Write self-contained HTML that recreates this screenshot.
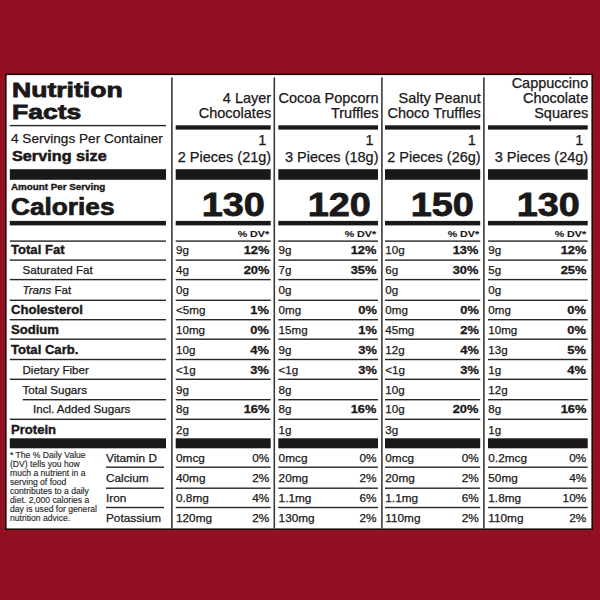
<!DOCTYPE html>
<html><head><meta charset="utf-8"><style>
html,body{margin:0;padding:0;}
body{width:600px;height:600px;background:#921022;position:relative;overflow:hidden;font-family:"Liberation Sans",sans-serif;color:#1a1818;}
.t{position:absolute;line-height:1;white-space:nowrap;}
</style></head><body>
<svg width="600" height="600" style="position:absolute;left:0;top:0">
<rect x="5.8" y="74.3" width="586.4" height="454.9" fill="#fff" stroke="#1e0608" stroke-width="1.6"/>
<rect x="171.10" y="77.5" width="1.6" height="450.90" fill="#3a3a3a"/>
<rect x="273.50" y="77.5" width="1.6" height="450.90" fill="#3a3a3a"/>
<rect x="381.10" y="77.5" width="1.6" height="450.90" fill="#3a3a3a"/>
<rect x="483.10" y="77.5" width="1.6" height="450.90" fill="#3a3a3a"/>
<rect x="9.80" y="124.90" width="156.20" height="1.40" fill="#262626"/>
<rect x="175.70" y="125.30" width="95.00" height="4.30" fill="#1a1818"/>
<rect x="278.30" y="125.30" width="99.70" height="4.30" fill="#1a1818"/>
<rect x="385.00" y="125.30" width="95.20" height="4.30" fill="#1a1818"/>
<rect x="488.00" y="125.30" width="99.70" height="4.30" fill="#1a1818"/>
<rect x="9.80" y="169.20" width="156.20" height="10.60" fill="#1a1818"/>
<rect x="175.70" y="169.20" width="95.00" height="10.60" fill="#1a1818"/>
<rect x="278.30" y="169.20" width="99.70" height="10.60" fill="#1a1818"/>
<rect x="385.00" y="169.20" width="95.20" height="10.60" fill="#1a1818"/>
<rect x="488.00" y="169.20" width="99.70" height="10.60" fill="#1a1818"/>
<rect x="9.80" y="220.90" width="156.20" height="4.50" fill="#1a1818"/>
<rect x="175.70" y="220.90" width="95.00" height="4.50" fill="#1a1818"/>
<rect x="278.30" y="220.90" width="99.70" height="4.50" fill="#1a1818"/>
<rect x="385.00" y="220.90" width="95.20" height="4.50" fill="#1a1818"/>
<rect x="488.00" y="220.90" width="99.70" height="4.50" fill="#1a1818"/>
<rect x="9.80" y="240.40" width="156.20" height="1.40" fill="#262626"/>
<rect x="175.70" y="240.40" width="95.00" height="1.40" fill="#262626"/>
<rect x="278.30" y="240.40" width="99.70" height="1.40" fill="#262626"/>
<rect x="385.00" y="240.40" width="95.20" height="1.40" fill="#262626"/>
<rect x="488.00" y="240.40" width="99.70" height="1.40" fill="#262626"/>
<rect x="9.80" y="259.40" width="156.20" height="1.40" fill="#262626"/>
<rect x="175.70" y="259.40" width="95.00" height="1.40" fill="#262626"/>
<rect x="278.30" y="259.40" width="99.70" height="1.40" fill="#262626"/>
<rect x="385.00" y="259.40" width="95.20" height="1.40" fill="#262626"/>
<rect x="488.00" y="259.40" width="99.70" height="1.40" fill="#262626"/>
<rect x="9.80" y="278.90" width="156.20" height="1.40" fill="#262626"/>
<rect x="175.70" y="278.90" width="95.00" height="1.40" fill="#262626"/>
<rect x="278.30" y="278.90" width="99.70" height="1.40" fill="#262626"/>
<rect x="385.00" y="278.90" width="95.20" height="1.40" fill="#262626"/>
<rect x="488.00" y="278.90" width="99.70" height="1.40" fill="#262626"/>
<rect x="9.80" y="299.60" width="156.20" height="1.40" fill="#262626"/>
<rect x="175.70" y="299.60" width="95.00" height="1.40" fill="#262626"/>
<rect x="278.30" y="299.60" width="99.70" height="1.40" fill="#262626"/>
<rect x="385.00" y="299.60" width="95.20" height="1.40" fill="#262626"/>
<rect x="488.00" y="299.60" width="99.70" height="1.40" fill="#262626"/>
<rect x="9.80" y="319.00" width="156.20" height="1.40" fill="#262626"/>
<rect x="175.70" y="319.00" width="95.00" height="1.40" fill="#262626"/>
<rect x="278.30" y="319.00" width="99.70" height="1.40" fill="#262626"/>
<rect x="385.00" y="319.00" width="95.20" height="1.40" fill="#262626"/>
<rect x="488.00" y="319.00" width="99.70" height="1.40" fill="#262626"/>
<rect x="9.80" y="338.50" width="156.20" height="1.40" fill="#262626"/>
<rect x="175.70" y="338.50" width="95.00" height="1.40" fill="#262626"/>
<rect x="278.30" y="338.50" width="99.70" height="1.40" fill="#262626"/>
<rect x="385.00" y="338.50" width="95.20" height="1.40" fill="#262626"/>
<rect x="488.00" y="338.50" width="99.70" height="1.40" fill="#262626"/>
<rect x="9.80" y="358.80" width="156.20" height="1.40" fill="#262626"/>
<rect x="175.70" y="358.80" width="95.00" height="1.40" fill="#262626"/>
<rect x="278.30" y="358.80" width="99.70" height="1.40" fill="#262626"/>
<rect x="385.00" y="358.80" width="95.20" height="1.40" fill="#262626"/>
<rect x="488.00" y="358.80" width="99.70" height="1.40" fill="#262626"/>
<rect x="9.80" y="378.60" width="156.20" height="1.40" fill="#262626"/>
<rect x="175.70" y="378.60" width="95.00" height="1.40" fill="#262626"/>
<rect x="278.30" y="378.60" width="99.70" height="1.40" fill="#262626"/>
<rect x="385.00" y="378.60" width="95.20" height="1.40" fill="#262626"/>
<rect x="488.00" y="378.60" width="99.70" height="1.40" fill="#262626"/>
<rect x="22.70" y="399.00" width="143.30" height="1.40" fill="#262626"/>
<rect x="175.70" y="399.00" width="95.00" height="1.40" fill="#262626"/>
<rect x="278.30" y="399.00" width="99.70" height="1.40" fill="#262626"/>
<rect x="385.00" y="399.00" width="95.20" height="1.40" fill="#262626"/>
<rect x="488.00" y="399.00" width="99.70" height="1.40" fill="#262626"/>
<rect x="9.80" y="418.60" width="156.20" height="1.40" fill="#262626"/>
<rect x="175.70" y="418.60" width="95.00" height="1.40" fill="#262626"/>
<rect x="278.30" y="418.60" width="99.70" height="1.40" fill="#262626"/>
<rect x="385.00" y="418.60" width="95.20" height="1.40" fill="#262626"/>
<rect x="488.00" y="418.60" width="99.70" height="1.40" fill="#262626"/>
<rect x="9.80" y="438.30" width="156.20" height="10.00" fill="#1a1818"/>
<rect x="175.70" y="438.30" width="95.00" height="10.00" fill="#1a1818"/>
<rect x="278.30" y="438.30" width="99.70" height="10.00" fill="#1a1818"/>
<rect x="385.00" y="438.30" width="95.20" height="10.00" fill="#1a1818"/>
<rect x="488.00" y="438.30" width="99.70" height="10.00" fill="#1a1818"/>
<rect x="106.00" y="466.50" width="58.00" height="1.40" fill="#262626"/>
<rect x="175.70" y="466.50" width="95.00" height="1.40" fill="#262626"/>
<rect x="278.30" y="466.50" width="99.70" height="1.40" fill="#262626"/>
<rect x="385.00" y="466.50" width="95.20" height="1.40" fill="#262626"/>
<rect x="488.00" y="466.50" width="99.70" height="1.40" fill="#262626"/>
<rect x="106.00" y="487.50" width="58.00" height="1.40" fill="#262626"/>
<rect x="175.70" y="487.50" width="95.00" height="1.40" fill="#262626"/>
<rect x="278.30" y="487.50" width="99.70" height="1.40" fill="#262626"/>
<rect x="385.00" y="487.50" width="95.20" height="1.40" fill="#262626"/>
<rect x="488.00" y="487.50" width="99.70" height="1.40" fill="#262626"/>
<rect x="106.00" y="506.80" width="58.00" height="1.40" fill="#262626"/>
<rect x="175.70" y="506.80" width="95.00" height="1.40" fill="#262626"/>
<rect x="278.30" y="506.80" width="99.70" height="1.40" fill="#262626"/>
<rect x="385.00" y="506.80" width="95.20" height="1.40" fill="#262626"/>
<rect x="488.00" y="506.80" width="99.70" height="1.40" fill="#262626"/>
</svg>
<div class="t" style="top:79px;font-size:21.0px;font-weight:bold;-webkit-text-stroke:0.8px #1a1818;left:12.20px;transform:scaleX(1.265);transform-origin:0 0;">Nutrition</div>
<div class="t" style="top:101px;font-size:21.0px;font-weight:bold;-webkit-text-stroke:0.8px #1a1818;left:12.20px;transform:scaleX(1.265);transform-origin:0 0;">Facts</div>
<div class="t" style="top:91px;font-size:14.5px;-webkit-text-stroke:0.25px #1a1818;right:328.80px;">4 Layer</div>
<div class="t" style="top:106px;font-size:14.5px;-webkit-text-stroke:0.25px #1a1818;right:328.80px;">Chocolates</div>
<div class="t" style="top:91px;font-size:14.5px;-webkit-text-stroke:0.25px #1a1818;right:221.50px;">Cocoa Popcorn</div>
<div class="t" style="top:106px;font-size:14.5px;-webkit-text-stroke:0.25px #1a1818;right:221.50px;">Truffles</div>
<div class="t" style="top:91px;font-size:14.5px;-webkit-text-stroke:0.25px #1a1818;right:119.30px;">Salty Peanut</div>
<div class="t" style="top:106px;font-size:14.5px;-webkit-text-stroke:0.25px #1a1818;right:119.30px;">Choco Truffles</div>
<div class="t" style="top:76px;font-size:14.5px;-webkit-text-stroke:0.25px #1a1818;right:11.80px;">Cappuccino</div>
<div class="t" style="top:91px;font-size:14.5px;-webkit-text-stroke:0.25px #1a1818;right:11.80px;">Chocolate</div>
<div class="t" style="top:106px;font-size:14.5px;-webkit-text-stroke:0.25px #1a1818;right:11.80px;">Squares</div>
<div class="t" style="top:132px;font-size:13.6px;-webkit-text-stroke:0.25px #1a1818;left:11.00px;">4 Servings Per Container</div>
<div class="t" style="top:149px;font-size:14.5px;font-weight:bold;-webkit-text-stroke:0.5px #1a1818;left:11.50px;transform:scaleX(1.12);transform-origin:0 0;">Serving size</div>
<div class="t" style="top:133px;font-size:14.5px;-webkit-text-stroke:0.25px #1a1818;right:333.80px;">1</div>
<div class="t" style="top:150px;font-size:14.5px;-webkit-text-stroke:0.25px #1a1818;right:328.80px;">2 Pieces (21g)</div>
<div class="t" style="top:133px;font-size:14.5px;-webkit-text-stroke:0.25px #1a1818;right:226.50px;">1</div>
<div class="t" style="top:150px;font-size:14.5px;-webkit-text-stroke:0.25px #1a1818;right:221.50px;">3 Pieces (18g)</div>
<div class="t" style="top:133px;font-size:14.5px;-webkit-text-stroke:0.25px #1a1818;right:124.30px;">1</div>
<div class="t" style="top:150px;font-size:14.5px;-webkit-text-stroke:0.25px #1a1818;right:119.30px;">2 Pieces (26g)</div>
<div class="t" style="top:133px;font-size:14.5px;-webkit-text-stroke:0.25px #1a1818;right:16.80px;">1</div>
<div class="t" style="top:150px;font-size:14.5px;-webkit-text-stroke:0.25px #1a1818;right:11.80px;">3 Pieces (24g)</div>
<div class="t" style="top:183px;font-size:8.9px;font-weight:bold;-webkit-text-stroke:0.35px #1a1818;left:11.00px;transform:scaleX(1.105);transform-origin:0 0;">Amount Per Serving</div>
<div class="t" style="top:196px;font-size:23.0px;font-weight:bold;-webkit-text-stroke:0.7px #1a1818;left:11.00px;transform:scaleX(1.14);transform-origin:0 0;">Calories</div>
<div class="t" style="top:188px;font-size:33.5px;font-weight:bold;-webkit-text-stroke:0.8px #1a1818;right:334.70px;transform:scaleX(1.13);transform-origin:100% 0;">130</div>
<div class="t" style="top:188px;font-size:33.5px;font-weight:bold;-webkit-text-stroke:0.8px #1a1818;right:228.80px;transform:scaleX(1.13);transform-origin:100% 0;">120</div>
<div class="t" style="top:188px;font-size:33.5px;font-weight:bold;-webkit-text-stroke:0.8px #1a1818;right:126.10px;transform:scaleX(1.13);transform-origin:100% 0;">150</div>
<div class="t" style="top:188px;font-size:33.5px;font-weight:bold;-webkit-text-stroke:0.8px #1a1818;right:19.80px;transform:scaleX(1.13);transform-origin:100% 0;">130</div>
<div class="t" style="top:230px;font-size:9.2px;font-weight:bold;-webkit-text-stroke:0.12px #1a1818;right:330.80px;transform:scaleX(1.16);transform-origin:100% 0;">% DV*</div>
<div class="t" style="top:230px;font-size:9.2px;font-weight:bold;-webkit-text-stroke:0.12px #1a1818;right:223.50px;transform:scaleX(1.16);transform-origin:100% 0;">% DV*</div>
<div class="t" style="top:230px;font-size:9.2px;font-weight:bold;-webkit-text-stroke:0.12px #1a1818;right:121.30px;transform:scaleX(1.16);transform-origin:100% 0;">% DV*</div>
<div class="t" style="top:230px;font-size:9.2px;font-weight:bold;-webkit-text-stroke:0.12px #1a1818;right:13.80px;transform:scaleX(1.16);transform-origin:100% 0;">% DV*</div>
<div class="t" style="top:244px;font-size:12.0px;font-weight:bold;-webkit-text-stroke:0.35px #1a1818;left:10.50px;transform:scaleX(1.09);transform-origin:0 0;">Total Fat</div>
<div class="t" style="top:264px;font-size:11.6px;-webkit-text-stroke:0.25px #1a1818;left:22.50px;">Saturated Fat</div>
<div class="t" style="top:284px;font-size:11.6px;-webkit-text-stroke:0.25px #1a1818;left:22.50px;"><i>Trans</i> Fat</div>
<div class="t" style="top:304px;font-size:12.0px;font-weight:bold;-webkit-text-stroke:0.35px #1a1818;left:10.50px;transform:scaleX(1.09);transform-origin:0 0;">Cholesterol</div>
<div class="t" style="top:324px;font-size:12.0px;font-weight:bold;-webkit-text-stroke:0.35px #1a1818;left:10.50px;transform:scaleX(1.09);transform-origin:0 0;">Sodium</div>
<div class="t" style="top:344px;font-size:12.0px;font-weight:bold;-webkit-text-stroke:0.35px #1a1818;left:10.50px;transform:scaleX(1.09);transform-origin:0 0;">Total Carb.</div>
<div class="t" style="top:364px;font-size:11.6px;-webkit-text-stroke:0.25px #1a1818;left:22.50px;">Dietary Fiber</div>
<div class="t" style="top:384px;font-size:11.6px;-webkit-text-stroke:0.25px #1a1818;left:22.50px;">Total Sugars</div>
<div class="t" style="top:403px;font-size:11.6px;-webkit-text-stroke:0.25px #1a1818;left:33.00px;">Incl. Added Sugars</div>
<div class="t" style="top:424px;font-size:12.0px;font-weight:bold;-webkit-text-stroke:0.35px #1a1818;left:10.50px;transform:scaleX(1.09);transform-origin:0 0;">Protein</div>
<div class="t" style="top:244px;font-size:11.6px;-webkit-text-stroke:0.25px #1a1818;left:176.00px;">9g</div>
<div class="t" style="top:244px;font-size:11.7px;font-weight:bold;-webkit-text-stroke:0.3px #1a1818;right:330.90px;transform:scaleX(1.1);transform-origin:100% 0;">12%</div>
<div class="t" style="top:264px;font-size:11.6px;-webkit-text-stroke:0.25px #1a1818;left:176.00px;">4g</div>
<div class="t" style="top:264px;font-size:11.7px;font-weight:bold;-webkit-text-stroke:0.3px #1a1818;right:330.90px;transform:scaleX(1.1);transform-origin:100% 0;">20%</div>
<div class="t" style="top:284px;font-size:11.6px;-webkit-text-stroke:0.25px #1a1818;left:176.00px;">0g</div>
<div class="t" style="top:304px;font-size:11.6px;-webkit-text-stroke:0.25px #1a1818;left:176.00px;">&lt;5mg</div>
<div class="t" style="top:304px;font-size:11.7px;font-weight:bold;-webkit-text-stroke:0.3px #1a1818;right:330.90px;transform:scaleX(1.1);transform-origin:100% 0;">1%</div>
<div class="t" style="top:324px;font-size:11.6px;-webkit-text-stroke:0.25px #1a1818;left:176.00px;">10mg</div>
<div class="t" style="top:324px;font-size:11.7px;font-weight:bold;-webkit-text-stroke:0.3px #1a1818;right:330.90px;transform:scaleX(1.1);transform-origin:100% 0;">0%</div>
<div class="t" style="top:344px;font-size:11.6px;-webkit-text-stroke:0.25px #1a1818;left:176.00px;">10g</div>
<div class="t" style="top:344px;font-size:11.7px;font-weight:bold;-webkit-text-stroke:0.3px #1a1818;right:330.90px;transform:scaleX(1.1);transform-origin:100% 0;">4%</div>
<div class="t" style="top:364px;font-size:11.6px;-webkit-text-stroke:0.25px #1a1818;left:176.00px;">&lt;1g</div>
<div class="t" style="top:364px;font-size:11.7px;font-weight:bold;-webkit-text-stroke:0.3px #1a1818;right:330.90px;transform:scaleX(1.1);transform-origin:100% 0;">3%</div>
<div class="t" style="top:384px;font-size:11.6px;-webkit-text-stroke:0.25px #1a1818;left:176.00px;">9g</div>
<div class="t" style="top:403px;font-size:11.6px;-webkit-text-stroke:0.25px #1a1818;left:176.00px;">8g</div>
<div class="t" style="top:403px;font-size:11.7px;font-weight:bold;-webkit-text-stroke:0.3px #1a1818;right:330.90px;transform:scaleX(1.1);transform-origin:100% 0;">16%</div>
<div class="t" style="top:424px;font-size:11.6px;-webkit-text-stroke:0.25px #1a1818;left:176.00px;">2g</div>
<div class="t" style="top:244px;font-size:11.6px;-webkit-text-stroke:0.25px #1a1818;left:278.60px;">9g</div>
<div class="t" style="top:244px;font-size:11.7px;font-weight:bold;-webkit-text-stroke:0.3px #1a1818;right:223.60px;transform:scaleX(1.1);transform-origin:100% 0;">12%</div>
<div class="t" style="top:264px;font-size:11.6px;-webkit-text-stroke:0.25px #1a1818;left:278.60px;">7g</div>
<div class="t" style="top:264px;font-size:11.7px;font-weight:bold;-webkit-text-stroke:0.3px #1a1818;right:223.60px;transform:scaleX(1.1);transform-origin:100% 0;">35%</div>
<div class="t" style="top:284px;font-size:11.6px;-webkit-text-stroke:0.25px #1a1818;left:278.60px;">0g</div>
<div class="t" style="top:304px;font-size:11.6px;-webkit-text-stroke:0.25px #1a1818;left:278.60px;">0mg</div>
<div class="t" style="top:304px;font-size:11.7px;font-weight:bold;-webkit-text-stroke:0.3px #1a1818;right:223.60px;transform:scaleX(1.1);transform-origin:100% 0;">0%</div>
<div class="t" style="top:324px;font-size:11.6px;-webkit-text-stroke:0.25px #1a1818;left:278.60px;">15mg</div>
<div class="t" style="top:324px;font-size:11.7px;font-weight:bold;-webkit-text-stroke:0.3px #1a1818;right:223.60px;transform:scaleX(1.1);transform-origin:100% 0;">1%</div>
<div class="t" style="top:344px;font-size:11.6px;-webkit-text-stroke:0.25px #1a1818;left:278.60px;">9g</div>
<div class="t" style="top:344px;font-size:11.7px;font-weight:bold;-webkit-text-stroke:0.3px #1a1818;right:223.60px;transform:scaleX(1.1);transform-origin:100% 0;">3%</div>
<div class="t" style="top:364px;font-size:11.6px;-webkit-text-stroke:0.25px #1a1818;left:278.60px;">&lt;1g</div>
<div class="t" style="top:364px;font-size:11.7px;font-weight:bold;-webkit-text-stroke:0.3px #1a1818;right:223.60px;transform:scaleX(1.1);transform-origin:100% 0;">3%</div>
<div class="t" style="top:384px;font-size:11.6px;-webkit-text-stroke:0.25px #1a1818;left:278.60px;">8g</div>
<div class="t" style="top:403px;font-size:11.6px;-webkit-text-stroke:0.25px #1a1818;left:278.60px;">8g</div>
<div class="t" style="top:403px;font-size:11.7px;font-weight:bold;-webkit-text-stroke:0.3px #1a1818;right:223.60px;transform:scaleX(1.1);transform-origin:100% 0;">16%</div>
<div class="t" style="top:424px;font-size:11.6px;-webkit-text-stroke:0.25px #1a1818;left:278.60px;">1g</div>
<div class="t" style="top:244px;font-size:11.6px;-webkit-text-stroke:0.25px #1a1818;left:385.30px;">10g</div>
<div class="t" style="top:244px;font-size:11.7px;font-weight:bold;-webkit-text-stroke:0.3px #1a1818;right:121.40px;transform:scaleX(1.1);transform-origin:100% 0;">13%</div>
<div class="t" style="top:264px;font-size:11.6px;-webkit-text-stroke:0.25px #1a1818;left:385.30px;">6g</div>
<div class="t" style="top:264px;font-size:11.7px;font-weight:bold;-webkit-text-stroke:0.3px #1a1818;right:121.40px;transform:scaleX(1.1);transform-origin:100% 0;">30%</div>
<div class="t" style="top:284px;font-size:11.6px;-webkit-text-stroke:0.25px #1a1818;left:385.30px;">0g</div>
<div class="t" style="top:304px;font-size:11.6px;-webkit-text-stroke:0.25px #1a1818;left:385.30px;">0mg</div>
<div class="t" style="top:304px;font-size:11.7px;font-weight:bold;-webkit-text-stroke:0.3px #1a1818;right:121.40px;transform:scaleX(1.1);transform-origin:100% 0;">0%</div>
<div class="t" style="top:324px;font-size:11.6px;-webkit-text-stroke:0.25px #1a1818;left:385.30px;">45mg</div>
<div class="t" style="top:324px;font-size:11.7px;font-weight:bold;-webkit-text-stroke:0.3px #1a1818;right:121.40px;transform:scaleX(1.1);transform-origin:100% 0;">2%</div>
<div class="t" style="top:344px;font-size:11.6px;-webkit-text-stroke:0.25px #1a1818;left:385.30px;">12g</div>
<div class="t" style="top:344px;font-size:11.7px;font-weight:bold;-webkit-text-stroke:0.3px #1a1818;right:121.40px;transform:scaleX(1.1);transform-origin:100% 0;">4%</div>
<div class="t" style="top:364px;font-size:11.6px;-webkit-text-stroke:0.25px #1a1818;left:385.30px;">&lt;1g</div>
<div class="t" style="top:364px;font-size:11.7px;font-weight:bold;-webkit-text-stroke:0.3px #1a1818;right:121.40px;transform:scaleX(1.1);transform-origin:100% 0;">3%</div>
<div class="t" style="top:384px;font-size:11.6px;-webkit-text-stroke:0.25px #1a1818;left:385.30px;">10g</div>
<div class="t" style="top:403px;font-size:11.6px;-webkit-text-stroke:0.25px #1a1818;left:385.30px;">10g</div>
<div class="t" style="top:403px;font-size:11.7px;font-weight:bold;-webkit-text-stroke:0.3px #1a1818;right:121.40px;transform:scaleX(1.1);transform-origin:100% 0;">20%</div>
<div class="t" style="top:424px;font-size:11.6px;-webkit-text-stroke:0.25px #1a1818;left:385.30px;">3g</div>
<div class="t" style="top:244px;font-size:11.6px;-webkit-text-stroke:0.25px #1a1818;left:488.30px;">9g</div>
<div class="t" style="top:244px;font-size:11.7px;font-weight:bold;-webkit-text-stroke:0.3px #1a1818;right:13.90px;transform:scaleX(1.1);transform-origin:100% 0;">12%</div>
<div class="t" style="top:264px;font-size:11.6px;-webkit-text-stroke:0.25px #1a1818;left:488.30px;">5g</div>
<div class="t" style="top:264px;font-size:11.7px;font-weight:bold;-webkit-text-stroke:0.3px #1a1818;right:13.90px;transform:scaleX(1.1);transform-origin:100% 0;">25%</div>
<div class="t" style="top:284px;font-size:11.6px;-webkit-text-stroke:0.25px #1a1818;left:488.30px;">0g</div>
<div class="t" style="top:304px;font-size:11.6px;-webkit-text-stroke:0.25px #1a1818;left:488.30px;">0mg</div>
<div class="t" style="top:304px;font-size:11.7px;font-weight:bold;-webkit-text-stroke:0.3px #1a1818;right:13.90px;transform:scaleX(1.1);transform-origin:100% 0;">0%</div>
<div class="t" style="top:324px;font-size:11.6px;-webkit-text-stroke:0.25px #1a1818;left:488.30px;">10mg</div>
<div class="t" style="top:324px;font-size:11.7px;font-weight:bold;-webkit-text-stroke:0.3px #1a1818;right:13.90px;transform:scaleX(1.1);transform-origin:100% 0;">0%</div>
<div class="t" style="top:344px;font-size:11.6px;-webkit-text-stroke:0.25px #1a1818;left:488.30px;">13g</div>
<div class="t" style="top:344px;font-size:11.7px;font-weight:bold;-webkit-text-stroke:0.3px #1a1818;right:13.90px;transform:scaleX(1.1);transform-origin:100% 0;">5%</div>
<div class="t" style="top:364px;font-size:11.6px;-webkit-text-stroke:0.25px #1a1818;left:488.30px;">1g</div>
<div class="t" style="top:364px;font-size:11.7px;font-weight:bold;-webkit-text-stroke:0.3px #1a1818;right:13.90px;transform:scaleX(1.1);transform-origin:100% 0;">4%</div>
<div class="t" style="top:384px;font-size:11.6px;-webkit-text-stroke:0.25px #1a1818;left:488.30px;">12g</div>
<div class="t" style="top:403px;font-size:11.6px;-webkit-text-stroke:0.25px #1a1818;left:488.30px;">8g</div>
<div class="t" style="top:403px;font-size:11.7px;font-weight:bold;-webkit-text-stroke:0.3px #1a1818;right:13.90px;transform:scaleX(1.1);transform-origin:100% 0;">16%</div>
<div class="t" style="top:424px;font-size:11.6px;-webkit-text-stroke:0.25px #1a1818;left:488.30px;">1g</div>
<div class="t" style="top:453px;font-size:11.8px;-webkit-text-stroke:0.25px #1a1818;left:106.00px;">Vitamin D</div>
<div class="t" style="top:473px;font-size:11.8px;-webkit-text-stroke:0.25px #1a1818;left:106.00px;">Calcium</div>
<div class="t" style="top:493px;font-size:11.8px;-webkit-text-stroke:0.25px #1a1818;left:106.00px;">Iron</div>
<div class="t" style="top:513px;font-size:11.8px;-webkit-text-stroke:0.25px #1a1818;left:106.00px;">Potassium</div>
<div class="t" style="top:453px;font-size:11.8px;-webkit-text-stroke:0.25px #1a1818;left:176.00px;">0mcg</div>
<div class="t" style="top:453px;font-size:11.8px;-webkit-text-stroke:0.25px #1a1818;right:330.80px;">0%</div>
<div class="t" style="top:473px;font-size:11.8px;-webkit-text-stroke:0.25px #1a1818;left:176.00px;">40mg</div>
<div class="t" style="top:473px;font-size:11.8px;-webkit-text-stroke:0.25px #1a1818;right:330.80px;">2%</div>
<div class="t" style="top:493px;font-size:11.8px;-webkit-text-stroke:0.25px #1a1818;left:176.00px;">0.8mg</div>
<div class="t" style="top:493px;font-size:11.8px;-webkit-text-stroke:0.25px #1a1818;right:330.80px;">4%</div>
<div class="t" style="top:513px;font-size:11.8px;-webkit-text-stroke:0.25px #1a1818;left:176.00px;">120mg</div>
<div class="t" style="top:513px;font-size:11.8px;-webkit-text-stroke:0.25px #1a1818;right:330.80px;">2%</div>
<div class="t" style="top:453px;font-size:11.8px;-webkit-text-stroke:0.25px #1a1818;left:278.60px;">0mcg</div>
<div class="t" style="top:453px;font-size:11.8px;-webkit-text-stroke:0.25px #1a1818;right:223.50px;">0%</div>
<div class="t" style="top:473px;font-size:11.8px;-webkit-text-stroke:0.25px #1a1818;left:278.60px;">20mg</div>
<div class="t" style="top:473px;font-size:11.8px;-webkit-text-stroke:0.25px #1a1818;right:223.50px;">2%</div>
<div class="t" style="top:493px;font-size:11.8px;-webkit-text-stroke:0.25px #1a1818;left:278.60px;">1.1mg</div>
<div class="t" style="top:493px;font-size:11.8px;-webkit-text-stroke:0.25px #1a1818;right:223.50px;">6%</div>
<div class="t" style="top:513px;font-size:11.8px;-webkit-text-stroke:0.25px #1a1818;left:278.60px;">130mg</div>
<div class="t" style="top:513px;font-size:11.8px;-webkit-text-stroke:0.25px #1a1818;right:223.50px;">2%</div>
<div class="t" style="top:453px;font-size:11.8px;-webkit-text-stroke:0.25px #1a1818;left:385.30px;">0mcg</div>
<div class="t" style="top:453px;font-size:11.8px;-webkit-text-stroke:0.25px #1a1818;right:121.30px;">0%</div>
<div class="t" style="top:473px;font-size:11.8px;-webkit-text-stroke:0.25px #1a1818;left:385.30px;">20mg</div>
<div class="t" style="top:473px;font-size:11.8px;-webkit-text-stroke:0.25px #1a1818;right:121.30px;">2%</div>
<div class="t" style="top:493px;font-size:11.8px;-webkit-text-stroke:0.25px #1a1818;left:385.30px;">1.1mg</div>
<div class="t" style="top:493px;font-size:11.8px;-webkit-text-stroke:0.25px #1a1818;right:121.30px;">6%</div>
<div class="t" style="top:513px;font-size:11.8px;-webkit-text-stroke:0.25px #1a1818;left:385.30px;">110mg</div>
<div class="t" style="top:513px;font-size:11.8px;-webkit-text-stroke:0.25px #1a1818;right:121.30px;">2%</div>
<div class="t" style="top:453px;font-size:11.8px;-webkit-text-stroke:0.25px #1a1818;left:488.30px;">0.2mcg</div>
<div class="t" style="top:453px;font-size:11.8px;-webkit-text-stroke:0.25px #1a1818;right:13.80px;">0%</div>
<div class="t" style="top:473px;font-size:11.8px;-webkit-text-stroke:0.25px #1a1818;left:488.30px;">50mg</div>
<div class="t" style="top:473px;font-size:11.8px;-webkit-text-stroke:0.25px #1a1818;right:13.80px;">4%</div>
<div class="t" style="top:493px;font-size:11.8px;-webkit-text-stroke:0.25px #1a1818;left:488.30px;">1.8mg</div>
<div class="t" style="top:493px;font-size:11.8px;-webkit-text-stroke:0.25px #1a1818;right:13.80px;">10%</div>
<div class="t" style="top:513px;font-size:11.8px;-webkit-text-stroke:0.25px #1a1818;left:488.30px;">110mg</div>
<div class="t" style="top:513px;font-size:11.8px;-webkit-text-stroke:0.25px #1a1818;right:13.80px;">2%</div>
<div class="t" style="top:451px;font-size:8.6px;color:#2a2a2a;-webkit-text-stroke:0.15px #2a2a2a;left:10.00px;">* The % Daily Value</div>
<div class="t" style="top:460px;font-size:8.6px;color:#2a2a2a;-webkit-text-stroke:0.15px #2a2a2a;left:10.00px;">(DV) tells you how</div>
<div class="t" style="top:469px;font-size:8.6px;color:#2a2a2a;-webkit-text-stroke:0.15px #2a2a2a;left:10.00px;">much a nutrient in a</div>
<div class="t" style="top:478px;font-size:8.6px;color:#2a2a2a;-webkit-text-stroke:0.15px #2a2a2a;left:10.00px;">serving of food</div>
<div class="t" style="top:487px;font-size:8.6px;color:#2a2a2a;-webkit-text-stroke:0.15px #2a2a2a;left:10.00px;">contributes to a daily</div>
<div class="t" style="top:496px;font-size:8.6px;color:#2a2a2a;-webkit-text-stroke:0.15px #2a2a2a;left:10.00px;">diet. 2,000 calories a</div>
<div class="t" style="top:505px;font-size:8.6px;color:#2a2a2a;-webkit-text-stroke:0.15px #2a2a2a;left:10.00px;">day is used for general</div>
<div class="t" style="top:514px;font-size:8.6px;color:#2a2a2a;-webkit-text-stroke:0.15px #2a2a2a;left:10.00px;">nutrition advice.</div>
</body></html>
